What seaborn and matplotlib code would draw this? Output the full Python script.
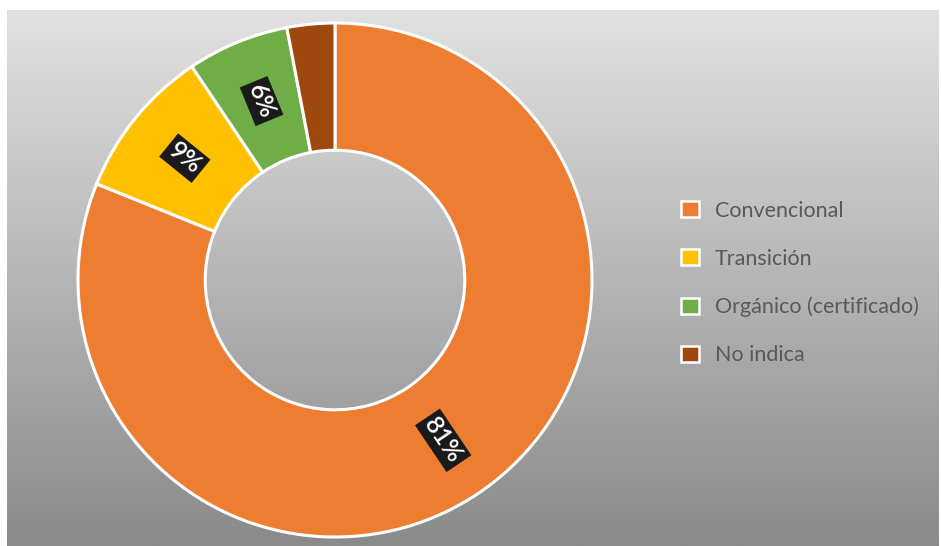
import numpy as np
import matplotlib
matplotlib.use("Agg")
import matplotlib.pyplot as plt
import seaborn as sns
from matplotlib.patches import Patch

categories = ["Convencional", "Transición", "Orgánico (certificado)", "No indica"]
values = [81.1, 9.5, 6.4, 3.0]
pct_labels = ["81%", "9%", "6%", ""]
colors = ["#ED7D31", "#FFC000", "#70AD47", "#9E480E"]

sns.set_theme(style="white")
plt.rcParams["font.family"] = ["Lato", "DejaVu Sans"]

W, H = 941, 546
fig = plt.figure(figsize=(W / 100, H / 100), dpi=100)
fig.patch.set_facecolor("white")

# gradient background panel
bg = fig.add_axes([7 / W, 0, (939 - 7) / W, (H - 10) / H])
grad = np.linspace(0, 1, 256).reshape(-1, 1)
top = np.array([226, 225, 226]) / 255
bot = np.array([138, 138, 138]) / 255
img = top[None, None, :] * (1 - grad[:, :, None]) + bot[None, None, :] * grad[:, :, None]
bg.imshow(img, aspect="auto", extent=[0, 1, 0, 1], origin="upper")
bg.set_axis_off()

# donut
cx, cy, r = 335, 280, 257
ax = fig.add_axes([(cx - r) / W, (H - cy - r) / H, 2 * r / W, 2 * r / H])
ax.set_facecolor("none")
width = 0.495
wedges, _ = ax.pie(values, colors=colors, startangle=90, counterclock=False,
                   radius=1.0, wedgeprops=dict(width=width, edgecolor="white", linewidth=2.2))
ax.set_aspect("equal")
ax.set_xlim(-1.0, 1.0)
ax.set_ylim(-1.0, 1.0)

rmid = 1 - width / 2
for w, lab in zip(wedges, pct_labels):
    if not lab:
        continue
    ang = (w.theta1 + w.theta2) / 2
    x = rmid * np.cos(np.deg2rad(ang))
    y = rmid * np.sin(np.deg2rad(ang))
    rot = ang % 360
    if rot > 180:
        rot -= 360
    if rot > 90:
        rot -= 180
    elif rot < -90:
        rot += 180
    ax.text(x, y, lab, ha="center", va="center", rotation=rot, rotation_mode="anchor",
            color="white", fontsize=18, fontweight="semibold",
            bbox=dict(boxstyle="square,pad=0.14", facecolor="#1a1a1a", edgecolor="none"))

handles = [Patch(facecolor=c, edgecolor="white", linewidth=1.8) for c in colors]
leg = fig.legend(handles, categories, loc="center left",
                 bbox_to_anchor=(662 / W, (H - 283) / H), frameon=False,
                 fontsize=15.5, labelcolor="#595959", handlelength=0.8, handleheight=0.8,
                 handletextpad=0.75, labelspacing=1.3)

fig.savefig("out.png", dpi=100)
